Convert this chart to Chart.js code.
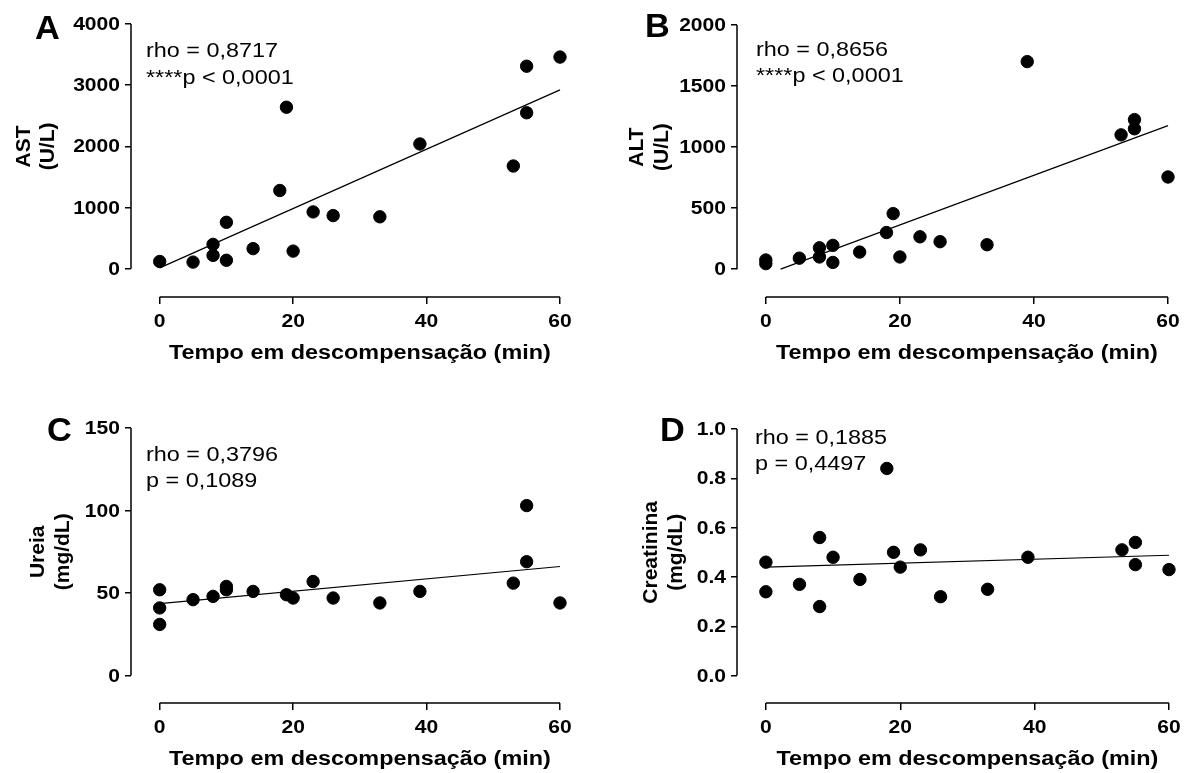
<!DOCTYPE html>
<html><head><meta charset="utf-8">
<script src="https://cdn.jsdelivr.net/npm/chart.js@4.4.1/dist/chart.umd.min.js"></script>
<style>
html,body{margin:0;padding:0;background:#fff;}
#wrap{position:relative;width:1186px;height:773px;}
.panel{position:absolute;left:0;top:0;width:1186px;height:773px;}
</style></head><body>
<div id="wrap">
<div class="panel"><canvas id="cA"></canvas></div>
<div class="panel"><canvas id="cB"></canvas></div>
<div class="panel"><canvas id="cC"></canvas></div>
<div class="panel"><canvas id="cD"></canvas></div>
</div>
<script>
// ---- data ----
const xTicks = [0, 20, 40, 60];
const xLabels = ['0', '20', '40', '60'];
const xTitle = 'Tempo em descompensação (min)';

const timeA = [0, 5, 8, 8, 10, 10, 14, 18, 19, 20, 23, 26, 33, 39, 53, 55, 55, 60];
const astA  = [120, 110, 400, 220, 760, 140, 330, 1280, 2640, 290, 930, 870, 850, 2040, 1680, 3310, 2550, 3460];
const fitXA = [0, 60];
const fitYA = [16, 2924];
const yTicksA = [0, 1000, 2000, 3000, 4000];
const yLabelsA = ['0', '1000', '2000', '3000', '4000'];

const timeB = [0, 0, 5, 8, 8, 10, 10, 14, 18, 19, 20, 23, 26, 33, 39, 53, 55, 55, 60];
const altB  = [75, 45, 90, 175, 100, 195, 55, 140, 300, 455, 100, 265, 225, 200, 1700, 1100, 1225, 1150, 755];
const fitXB = [2.2, 60];
const fitYB = [0, 1176];
const yTicksB = [0, 500, 1000, 1500, 2000];
const yLabelsB = ['0', '500', '1000', '1500', '2000'];

const timeC = [0, 0, 0, 5, 8, 10, 10, 14, 19, 20, 23, 26, 33, 39, 53, 55, 55, 60];
const ureiaC = [52, 41, 31, 46, 48, 54, 52, 51, 49, 47, 57, 47, 44, 51, 56, 103, 69, 44];
const fitXC = [0, 60];
const fitYC = [43.6, 66.1];
const yTicksC = [0, 50, 100, 150];
const yLabelsC = ['0', '50', '100', '150'];

const timeD = [0, 0, 5, 8, 8, 10, 14, 18, 19, 20, 23, 26, 33, 39, 53, 55, 55, 60];
const creatD = [0.46, 0.34, 0.37, 0.56, 0.28, 0.48, 0.39, 0.84, 0.50, 0.44, 0.51, 0.32, 0.35, 0.48, 0.51, 0.54, 0.45, 0.43];
const fitXD = [0, 60];
const fitYD = [0.44, 0.488];
const yTicksD = [0, 0.2, 0.4, 0.6, 0.8, 1.0];
const yLabelsD = ['0.0', '0.2', '0.4', '0.6', '0.8', '1.0'];

// ---- layout (page pixels) ----
const FONT = "'Liberation Sans', Arial, sans-serif";
const SX = 1.17; // horizontal text stretch seen in the reference
const panels = [
  {id:'cA', letter:'A', time:timeA, vals:astA, fx:fitXA, fy:fitYA, yt:yTicksA, yl:yLabelsA, yMin:-460,
   title:['AST','(U/L)'], stats:['rho = 0,8717','****p < 0,0001'],
   area:{left:131, top:24, right:560, bottom:297}, letter_xy:[35,30], stat_xy:[146,51,78], tbase:[30,54]},
  {id:'cB', letter:'B', time:timeB, vals:altB, fx:fitXB, fy:fitYB, yt:yTicksB, yl:yLabelsB, yMin:-228,
   title:['ALT','(U/L)'], stats:['rho = 0,8656','****p < 0,0001'],
   area:{left:737, top:25, right:1168, bottom:297}, letter_xy:[645,28], stat_xy:[756,50,76], tbase:[643,668]},
  {id:'cC', letter:'C', time:timeC, vals:ureiaC, fx:fitXC, fy:fitYC, yt:yTicksC, yl:yLabelsC, yMin:-16.6,
   title:['Ureia','(mg/dL)'], stats:['rho = 0,3796','p = 0,1089'],
   area:{left:131, top:428, right:560, bottom:703}, letter_xy:[47,432], stat_xy:[146,455,481], tbase:[44,69]},
  {id:'cD', letter:'D', time:timeD, vals:creatD, fx:fitXD, fy:fitYD, yt:yTicksD, yl:yLabelsD, yMin:-0.111,
   title:['Creatinina','(mg/dL)'], stats:['rho = 0,1885','p = 0,4497'],
   area:{left:737, top:429, right:1169, bottom:703}, letter_xy:[660,432], stat_xy:[755,438,464], tbase:[657,682]}
];

const Y_SCALE_W = 80, X_SCALE_H = 40, W = 1186, H = 773;

function sText(ctx, text, x, y, align, base, sx) {
  ctx.save();
  ctx.translate(x, y);
  ctx.scale(sx, 1);
  ctx.textAlign = align;
  ctx.textBaseline = base;
  ctx.fillText(text, 0, 0);
  ctx.restore();
}

const decor = {
  id: 'decor',
  afterDatasetsDraw(chart) {
    const p = chart.options.plugins.decor.panel;
    const ctx = chart.ctx, xs = chart.scales.x, ys = chart.scales.y;
    const ca = chart.chartArea;
    ctx.save();
    ctx.strokeStyle = '#000';
    ctx.lineWidth = 1.5;
    // y axis line (0 .. max)
    ctx.beginPath();
    ctx.moveTo(ca.left, ys.getPixelForValue(p.yt[p.yt.length - 1]));
    ctx.lineTo(ca.left, ys.getPixelForValue(p.yt[0]));
    ctx.stroke();
    // x axis line (0 .. 60)
    ctx.beginPath();
    ctx.moveTo(xs.getPixelForValue(xTicks[0]), ca.bottom);
    ctx.lineTo(xs.getPixelForValue(xTicks[xTicks.length - 1]), ca.bottom);
    ctx.stroke();
    ctx.fillStyle = '#000';
    // tick labels
    ctx.font = 'bold 18px ' + FONT;
    xTicks.forEach((v, i) => sText(ctx, xLabels[i], xs.getPixelForValue(v), ca.bottom + 25, 'center', 'middle', SX));
    p.yt.forEach((v, i) => sText(ctx, p.yl[i], ca.left - 11, ys.getPixelForValue(v) + 1, 'right', 'middle', SX));
    // panel letter
    ctx.font = 'bold 33px ' + FONT;
    sText(ctx, p.letter, p.letter_xy[0], p.letter_xy[1], 'left', 'middle', 1.04);
    // stats
    ctx.font = '20px ' + FONT;
    sText(ctx, p.stats[0], p.stat_xy[0], p.stat_xy[1], 'left', 'middle', SX);
    sText(ctx, p.stats[1], p.stat_xy[0], p.stat_xy[2], 'left', 'middle', SX);
    // x title
    ctx.font = 'bold 20px ' + FONT;
    sText(ctx, xTitle, xs.getPixelForValue(30), ca.bottom + 56, 'center', 'middle', SX);
    // y title (rotated, two lines)
    const yc = (ys.getPixelForValue(p.yt[0]) + ys.getPixelForValue(p.yt[p.yt.length - 1])) / 2;
    ctx.font = 'bold 21px ' + FONT;
    ctx.translate(0, yc);
    ctx.rotate(-Math.PI / 2);
    ctx.textAlign = 'center';
    ctx.textBaseline = 'alphabetic';
    ctx.fillText(p.title[0], 0, p.tbase[0]);
    ctx.fillText(p.title[1], 0, p.tbase[1]);
    ctx.restore();
  }
};

panels.forEach(p => {
  const pts = p.time.map((t, i) => ({x: t, y: p.vals[i]}));
  const fit = p.fx.map((t, i) => ({x: t, y: p.fy[i]}));
  new Chart(document.getElementById(p.id), {
    type: 'scatter',
    data: {
      datasets: [
        {type: 'line', data: fit, borderColor: '#000', borderWidth: 1.2, pointRadius: 0, fill: false, clip: false, order: 2},
        {data: pts, backgroundColor: '#000', borderColor: '#000', pointRadius: 6.2, pointHoverRadius: 6.2, clip: false, order: 1}
      ]
    },
    options: {
      responsive: true, maintainAspectRatio: false, animation: false,
      events: [],
      layout: {padding: {left: p.area.left - Y_SCALE_W, top: p.area.top, right: W - p.area.right, bottom: H - p.area.bottom - X_SCALE_H}},
      plugins: {legend: {display: false}, tooltip: {enabled: false}, decor: {panel: p}},
      scales: {
        x: {
          type: 'linear', min: -4.3, max: 60,
          afterBuildTicks: s => { s.ticks = xTicks.map(v => ({value: v})); },
          afterFit: s => { s.height = X_SCALE_H; },
          ticks: {display: false},
          grid: {drawOnChartArea: false, drawTicks: true, tickLength: 7, color: '#000', lineWidth: 1.5},
          border: {display: false}
        },
        y: {
          type: 'linear', min: p.yMin, max: p.yt[p.yt.length - 1],
          afterBuildTicks: s => { s.ticks = p.yt.map(v => ({value: v})); },
          afterFit: s => { s.width = Y_SCALE_W; },
          ticks: {display: false},
          grid: {drawOnChartArea: false, drawTicks: true, tickLength: 6, color: '#000', lineWidth: 1.5},
          border: {display: false}
        }
      }
    },
    plugins: [decor]
  });
});
</script>
</body></html>
